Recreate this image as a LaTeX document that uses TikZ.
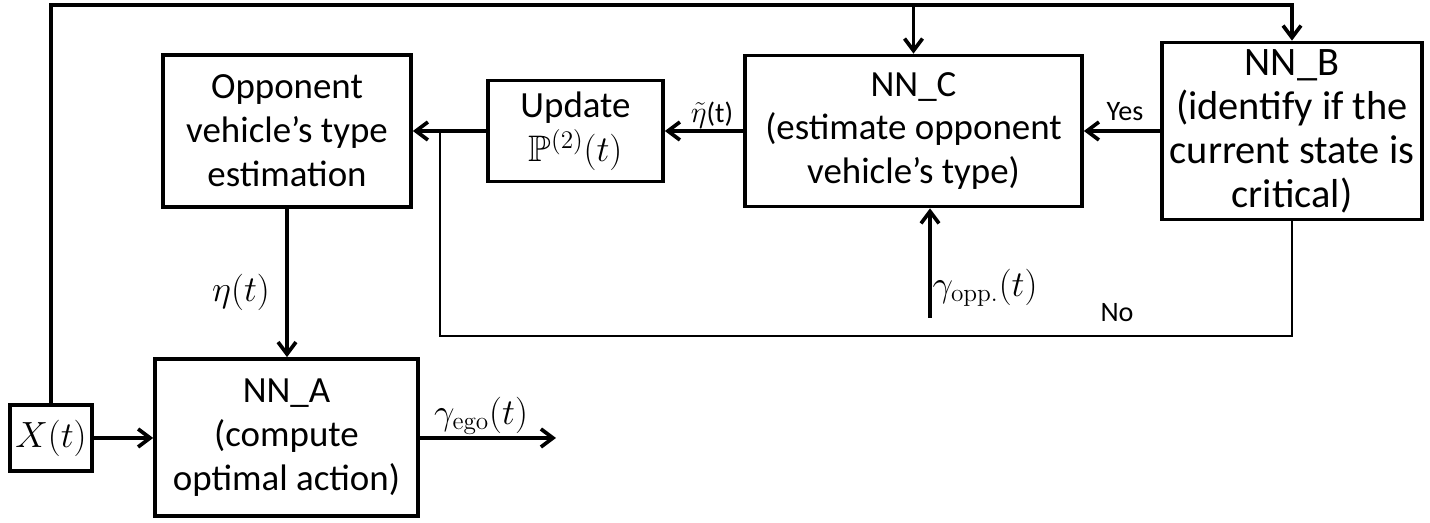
\documentclass[tikz,border=0pt]{standalone}
\usepackage{amsmath,amssymb}
\usepackage[no-math]{fontspec}
\setmainfont{Carlito}
\usetikzlibrary{arrows.meta}

\begin{document}
\begin{tikzpicture}[
  arr/.style = {-{Straight Barb[length=2.4mm,width=3.6mm]}, line width=2.1pt},
  ln/.style  = {line width=1.6pt},
  blk/.style = {rectangle, draw, line width=2.1pt, align=center, inner sep=1pt,
                font=\fontsize{21}{25}\selectfont},
  lbl/.style = {font=\fontsize{20}{24}\selectfont},
  tag/.style = {font=\fontsize{16}{18}\selectfont}
]
\useasboundingbox (0,0) rectangle (28.6,10.46);

%% ── Nodes ─────────────────────────────────────────────────────────────────
\node[blk, minimum width=1.64cm, minimum height=1.32cm, inner sep=0pt,
      font=\fontsize{22}{24}\selectfont]                       (xt)  at (1.02,  1.70) {$X(t)$};
\node[blk, minimum width=5.26cm, minimum height=3.14cm]        (nna) at (5.73,  1.71) {NN\_A\\(compute\\optimal action)};
\node[blk, minimum width=4.96cm, minimum height=3.04cm]        (opp) at (5.74,  7.84) {Opponent\\vehicle’s type\\estimation};
\node[blk, minimum width=3.50cm, minimum height=2.02cm]        (upd) at (11.51, 7.84) {Update\\$\mathbb{P}^{(2)}(t)$};
\node[blk, minimum width=6.74cm, minimum height=3.02cm]        (nnc) at (18.27, 7.84) {NN\_C\\(estimate opponent\\vehicle’s type)};
\node[blk, minimum width=5.20cm, minimum height=3.54cm,
      font=\fontsize{23}{25}\selectfont]                       (nnb) at (25.84, 7.84) {NN\_B\\(identify if the\\current state is\\critical)};

%% ── Helper points ─────────────────────────────────────────────────────────
\coordinate (top) at (1.02, 10.36);
\coordinate (gin) at (18.60, 4.10);
\coordinate (fb)  at (8.80,  3.74);
\coordinate (out) at (11.12, 1.70);

%% ── Arrows ────────────────────────────────────────────────────────────────
% X(t) → top bus → NN_B
\draw[arr] (xt.north) |- (top -| nnb.north) -- (nnb.north);

% top bus → NN_C
\draw[arr] (top -| nnc.north) -- (nnc.north);

% NN_B → NN_C
\draw[arr] (nnb.west) -- (nnc.east);

% NN_C → Update
\draw[arr] (nnc.west) -- (upd.east);

% Update → Opponent
\draw[arr] (upd.west) -- (opp.east);

% NN_B → Opponent (feedback below)
\draw[ln] (nnb.south) |- (fb) -- (fb |- opp.east);

% opponent action → NN_C
\draw[arr] (gin) -- (gin |- nnc.south);

% Opponent → NN_A
\draw[arr] (opp.south) -- (opp.south |- nna.north);

% X(t) → NN_A
\draw[arr] (xt.east) -- (xt.east -| nna.west);

% NN_A → output
\draw[arr] (nna.east |- out) -- (out);

%% ── Labels ────────────────────────────────────────────────────────────────
\node[tag] (lyes) at (22.50, 8.22) {Yes};
\node[tag] (lno)  at (22.34, 4.20) {No};
\node[tag] (leta) at (14.24, 8.16) {$\tilde{\eta}$(t)};
\node[lbl] (lopp) at (19.70, 4.70) {$\gamma_{\mathrm{opp.}}(t)$};
\node[lbl] (lhat) at (4.82,  4.62) {$\eta(t)$};
\node[lbl] (lego) at (9.62,  2.14) {$\gamma_{\mathrm{ego}}(t)$};

\end{tikzpicture}
\end{document}
